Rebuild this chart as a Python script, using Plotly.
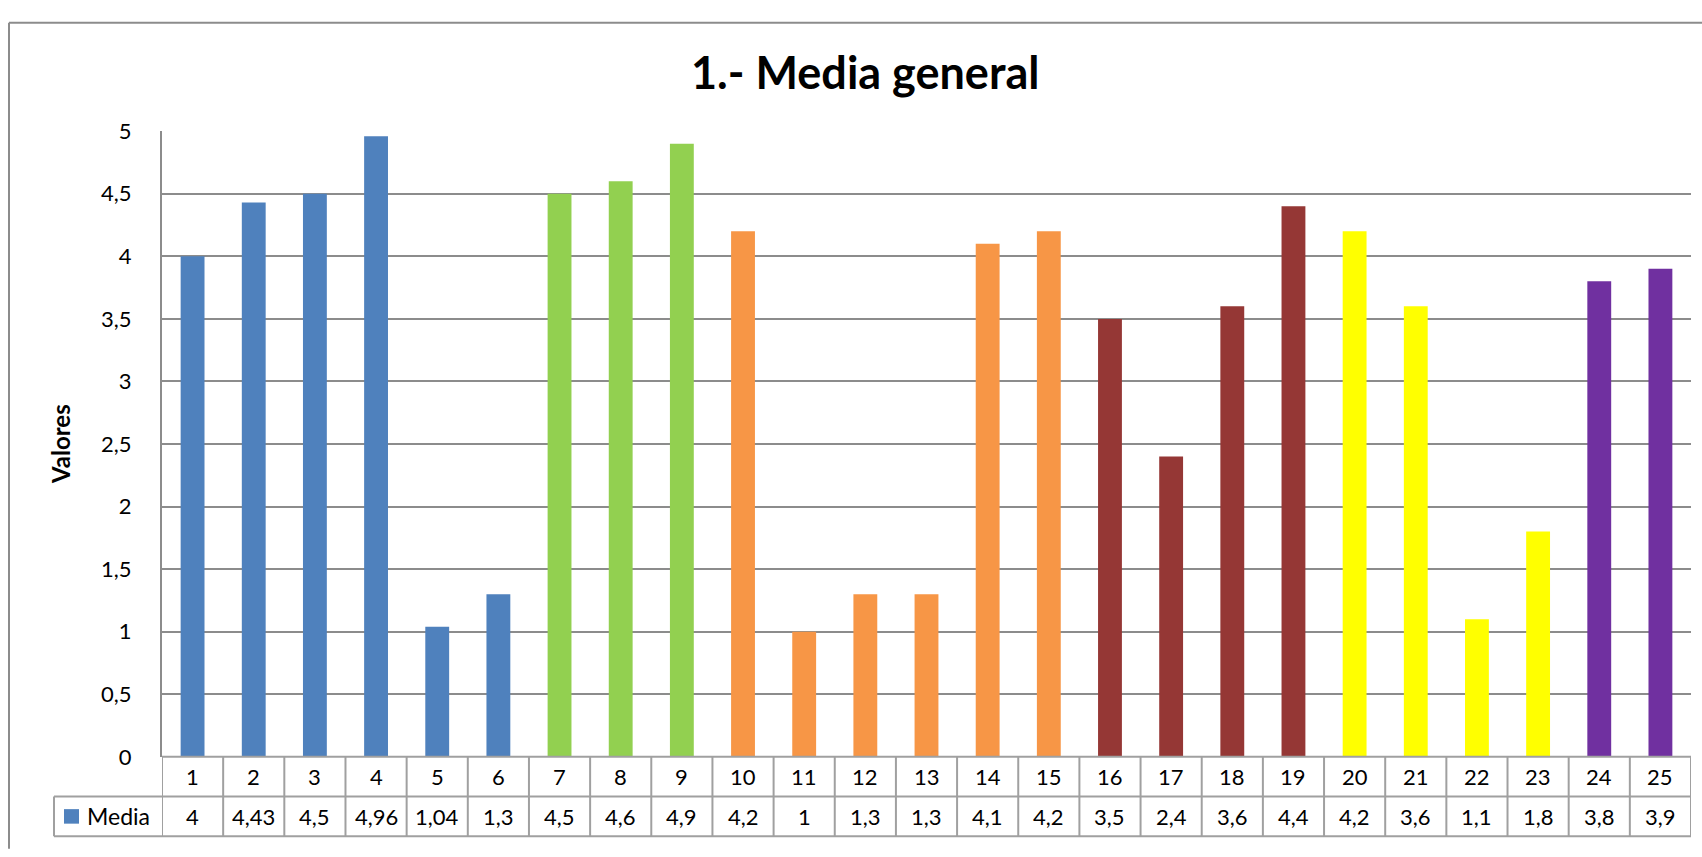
import plotly.graph_objects as go

categories = list(range(1, 26))
media = [4, 4.43, 4.5, 4.96, 1.04, 1.3, 4.5, 4.6, 4.9, 4.2, 1, 1.3, 1.3, 4.1, 4.2,
         3.5, 2.4, 3.6, 4.4, 4.2, 3.6, 1.1, 1.8, 3.8, 3.9]
bar_colors = (["#4F81BD"] * 6 + ["#92D050"] * 3 + ["#F79646"] * 6 +
              ["#953735"] * 4 + ["#FFFF00"] * 4 + ["#7030A0"] * 2)
series_name = "Media"
title_text = "1.- Media general"
y_title = "Valores"

W, H = 1702, 857
FONT = "Lato"
PL, PR, PT, PB = 162, 1691, 121, 767   # plot area in pixels
ROW1_B, ROW2_B = 808, 849
LEG_L = 54
GRID = "#8C8C8C"
TABLE = "#A0A0A0"

def px(x):
    return x / W

def py(y):
    return 1 - y / H

def fmt(v):
    return ("%g" % v).replace(".", ",")

fig = go.Figure()
fig.add_trace(go.Bar(x=categories, y=media, marker=dict(color=bar_colors, line=dict(width=0)),
                     name=series_name, showlegend=False))

shapes = []
shapes.append(dict(type="line", xref="paper", yref="paper", x0=px(9), x1=px(W + 5), y0=py(9), y1=py(9),
                   line=dict(color="#8C8C8C", width=2)))
shapes.append(dict(type="line", xref="paper", yref="paper", x0=px(9), x1=px(9), y0=py(9), y1=py(H + 5),
                   line=dict(color="#8C8C8C", width=2)))
shapes.append(dict(type="line", xref="paper", yref="paper", x0=px(PL), x1=px(PR), y0=py(PB), y1=py(PB),
                   line=dict(color=TABLE, width=2)))
for yy in (ROW1_B, ROW2_B):
    shapes.append(dict(type="line", xref="paper", yref="paper", x0=px(LEG_L), x1=px(PR), y0=py(yy), y1=py(yy),
                       line=dict(color=TABLE, width=2)))
for i in range(len(categories) + 1):
    xv = categories[0] - 0.5 + i
    shapes.append(dict(type="line", xref="x", yref="paper", x0=xv, x1=xv, y0=py(PB), y1=py(ROW2_B),
                       line=dict(color=TABLE, width=2)))
shapes.append(dict(type="line", xref="paper", yref="paper", x0=px(LEG_L), x1=px(LEG_L), y0=py(ROW1_B), y1=py(ROW2_B),
                   line=dict(color=TABLE, width=2)))
shapes.append(dict(type="rect", xref="paper", yref="paper", x0=px(64), x1=px(79), y0=py(836), y1=py(821),
                   fillcolor=bar_colors[0], line=dict(width=0)))

annotations = []
for c, v in zip(categories, media):
    annotations.append(dict(x=c, y=py((PB + ROW1_B) / 2), xref="x", yref="paper", text=str(c),
                            showarrow=False, font=dict(family=FONT, size=22, color="black"),
                            xanchor="center", yanchor="middle"))
    annotations.append(dict(x=c, y=py((ROW1_B + ROW2_B) / 2), xref="x", yref="paper", text=fmt(v),
                            showarrow=False, font=dict(family=FONT, size=22, color="black"),
                            xanchor="center", yanchor="middle"))
annotations.append(dict(x=px(85), y=py((ROW1_B + ROW2_B) / 2), xref="paper", yref="paper", text=series_name,
                        showarrow=False, font=dict(family=FONT, size=23, color="black"),
                        xanchor="left", yanchor="middle"))
annotations.append(dict(x=px(865), y=py(60), xref="paper", yref="paper", text="<b>%s</b>" % title_text,
                        showarrow=False, font=dict(family=FONT, size=45, color="black"),
                        xanchor="center", yanchor="middle"))
annotations.append(dict(x=px(60), y=py((PT + PB) / 2), xref="paper", yref="paper", text="<b>%s</b>" % y_title,
                        showarrow=False, font=dict(family=FONT, size=24, color="black"), textangle=-90,
                        xanchor="center", yanchor="middle"))

fig.update_layout(
    width=W, height=H,
    margin=dict(l=0, r=0, t=0, b=0),
    paper_bgcolor="white", plot_bgcolor="white",
    separators=",.",
    bargap=0.61,
    showlegend=False,
    xaxis=dict(domain=[px(PL), px(PR)], range=[0.5, 25.5], showticklabels=False, showgrid=False,
               zeroline=False, showline=False, ticks=""),
    yaxis=dict(domain=[py(PB), py(PT)], range=[0, 5], dtick=0.5, tick0=0, showgrid=True, gridcolor=GRID,
               gridwidth=1.5, zeroline=False, showline=True, linecolor=GRID, linewidth=2, ticks="",
               tickfont=dict(family=FONT, size=22, color="black"), ticklabelstandoff=24),
    shapes=shapes,
    annotations=annotations,
)

fig.write_html("out.html", config={"displayModeBar": False},
               post_script="document.body.style.margin='0';document.body.style.overflow='hidden';")
